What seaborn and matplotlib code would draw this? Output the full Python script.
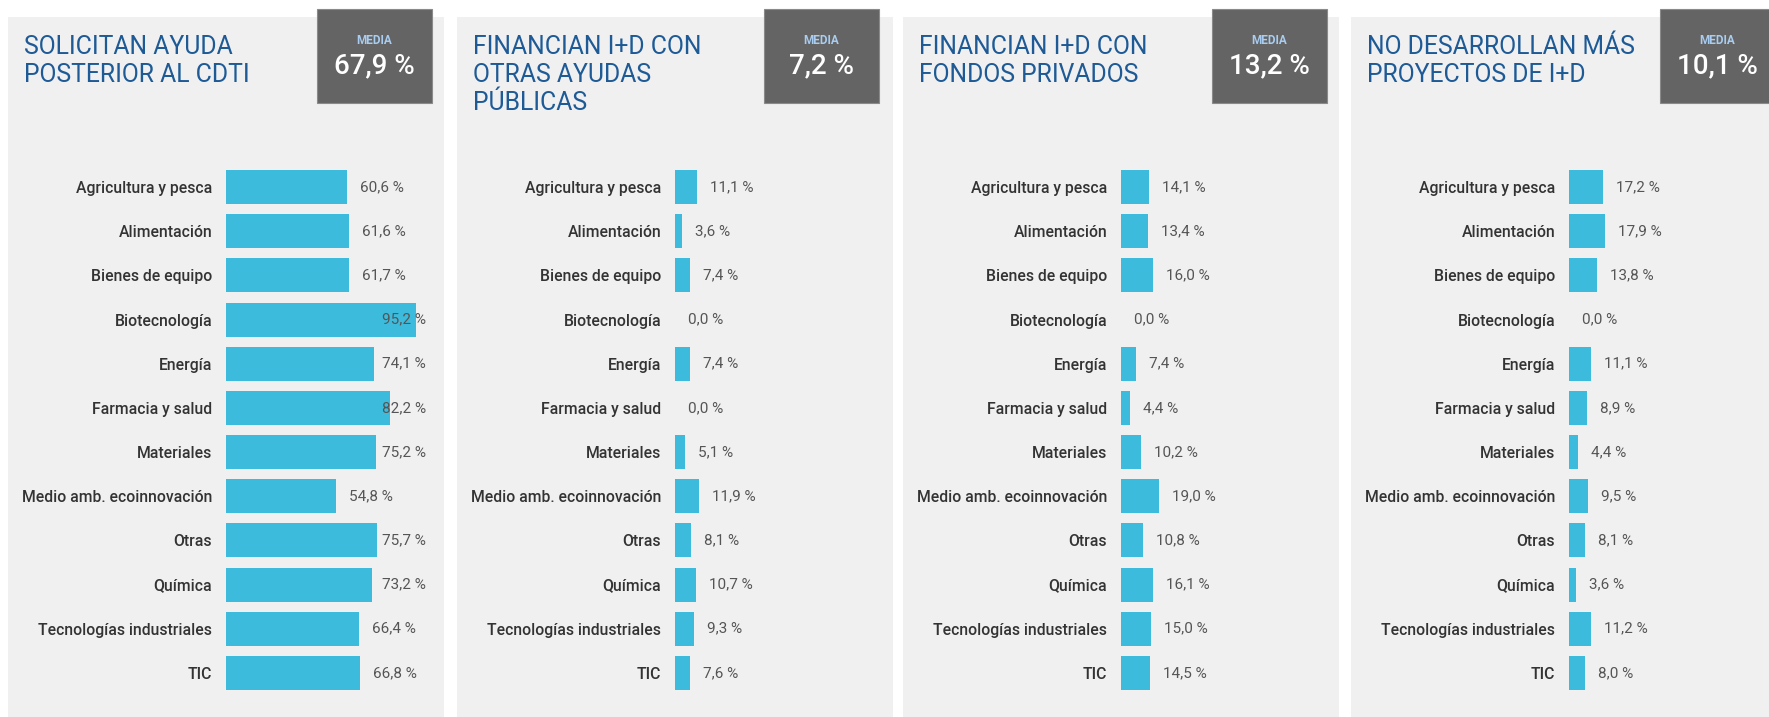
import matplotlib
matplotlib.use("Agg")
import matplotlib.pyplot as plt
from matplotlib.patches import Rectangle
import seaborn as sns
import pandas as pd

W, H = 1769, 717

categories = ["Agricultura y pesca", "Alimentación", "Bienes de equipo", "Biotecnología",
              "Energía", "Farmacia y salud", "Materiales", "Medio amb. ecoinnovación",
              "Otras", "Química", "Tecnologías industriales", "TIC"]

solicitan = [60.6, 61.6, 61.7, 95.2, 74.1, 82.2, 75.2, 54.8, 75.7, 73.2, 66.4, 66.8]
otras_ayudas = [11.1, 3.6, 7.4, 0.0, 7.4, 0.0, 5.1, 11.9, 8.1, 10.7, 9.3, 7.6]
fondos_privados = [14.1, 13.4, 16.0, 0.0, 7.4, 4.4, 10.2, 19.0, 10.8, 16.1, 15.0, 14.5]
no_desarrollan = [17.2, 17.9, 13.8, 0.0, 11.1, 8.9, 4.4, 9.5, 8.1, 3.6, 11.2, 8.0]

titles = ["SOLICITAN AYUDA\nPOSTERIOR AL CDTI",
          "FINANCIAN I+D CON\nOTRAS AYUDAS\nPÚBLICAS",
          "FINANCIAN I+D CON\nFONDOS PRIVADOS",
          "NO DESARROLLAN MÁS\nPROYECTOS DE I+D"]
medias = [67.9, 7.2, 13.2, 10.1]
series = [solicitan, otras_ayudas, fondos_privados, no_desarrollan]

BAR = "#3dbbdc"
PANEL_BG = "#f0f0f0"
BOX = "#646464"
TITLE_C = "#1d5a96"

sns.set_theme(style="white")
plt.rcParams["font.family"] = ["Roboto", "DejaVu Sans"]

fig = plt.figure(figsize=(W / 100, H / 100), dpi=100)
fig.patch.set_facecolor("white")


def fx(px):
    return px / W


def fy(py):
    return 1 - py / H


def comma(v):
    return f"{v:.1f} %".replace(".", ",")


panel_left = [8, 457, 903, 1351]
box_left = [317, 764, 1212, 1660]
panel_w = 436

for i in range(4):
    pl = panel_left[i]
    fig.add_artist(Rectangle((fx(pl), 0), fx(panel_w), fy(17), transform=fig.transFigure,
                             facecolor=PANEL_BG, edgecolor="none", zorder=0))
    # media box
    bl = box_left[i]
    fig.add_artist(Rectangle((fx(bl), fy(103)), fx(115), 94 / H, transform=fig.transFigure,
                             facecolor=BOX, edgecolor="#8a8a8a", linewidth=0.8, zorder=1))
    cx = bl + 57.5
    fig.text(fx(cx), fy(40), "MEDIA", color="#a9cdf0", fontsize=8.5, fontweight="bold",
             ha="center", va="center")
    fig.text(fx(cx), fy(66), comma(medias[i]), color="white", fontsize=20,
             fontweight="medium", ha="center", va="center")
    fig.text(fx(pl + 16), fy(35), titles[i], color=TITLE_C, fontsize=17.8,
             ha="left", va="top", linespacing=1.2)

    # bar axis
    x0 = pl + 218
    ax = fig.add_axes([fx(x0), fy(695), fx(pl + panel_w - x0), (695 - 165) / H])
    ax.set_facecolor("none")
    df = pd.DataFrame({"cat": categories, "val": series[i]})
    sns.barplot(data=df, x="val", y="cat", orient="h", color=BAR, saturation=1,
                width=0.77, linewidth=0, ax=ax)
    ax.set_xlim(0, 109)
    ax.set_ylim(11.5, -0.5)
    ax.set_xlabel("")
    ax.set_ylabel("")
    ax.set_xticks([])
    ax.tick_params(axis="y", length=0, pad=10)
    for lab in ax.get_yticklabels():
        lab.set_fontsize(11.3)
        lab.set_fontweight("medium")
        lab.set_color("#333333")
    for s in ax.spines.values():
        s.set_visible(False)
    for j, v in enumerate(series[i]):
        ax.text(min(v + 6.5, 78), j, comma(v), va="center", ha="left",
                fontsize=11, color="#555555")

fig.savefig("out.png", dpi=100, facecolor="white")
